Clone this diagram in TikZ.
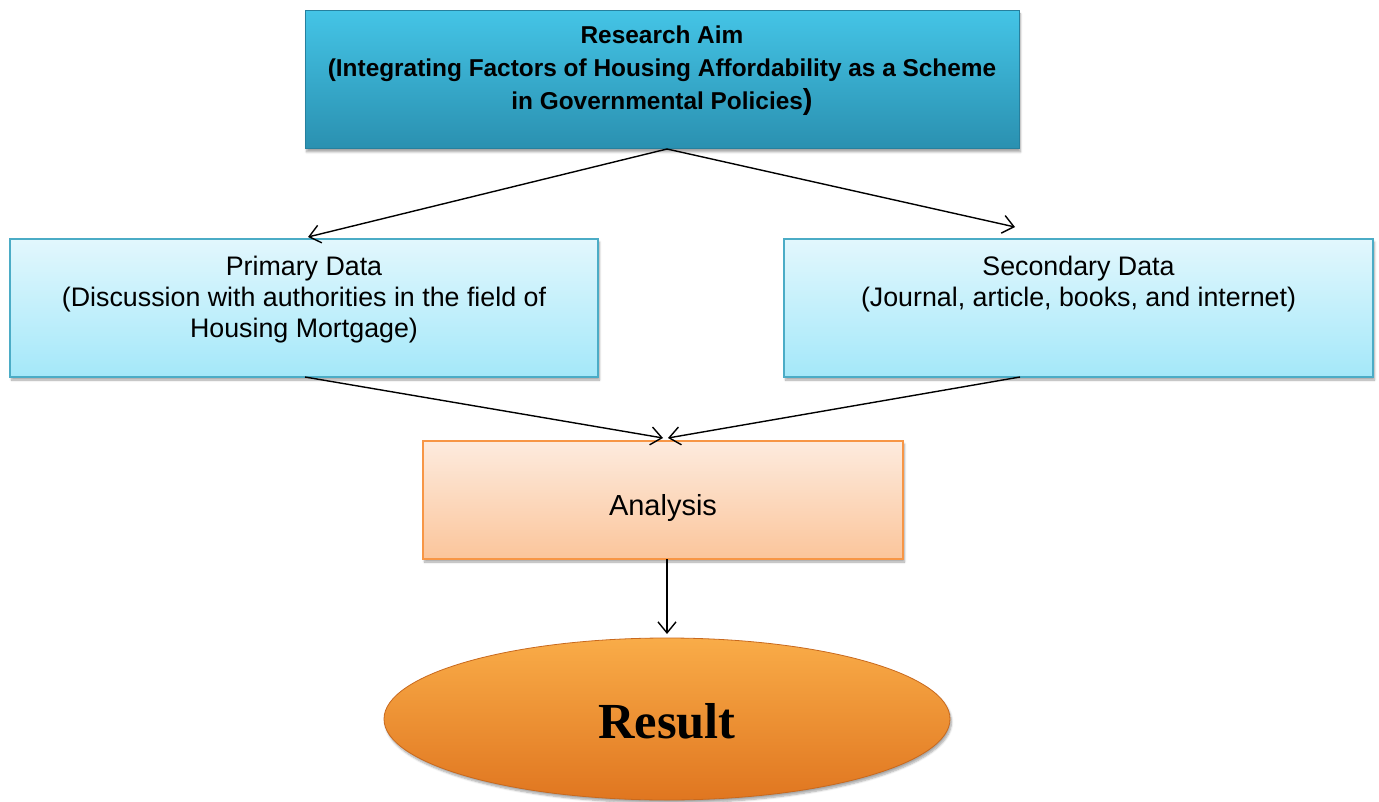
\documentclass[tikz,border=0pt]{standalone}
\usepackage{fontspec}
\setmainfont{Liberation Sans}
\newfontfamily\resfont{Liberation Serif}
\usetikzlibrary{arrows.meta,shapes.geometric,shadows.blur}
\definecolor{aimtop}{RGB}{68,196,230}
\definecolor{aimmid}{RGB}{54,176,212}
\definecolor{aimbot}{RGB}{42,144,176}
\definecolor{aimedge}{RGB}{38,128,158}
\definecolor{datatop}{RGB}{226,247,253}
\definecolor{databot}{RGB}{164,232,249}
\definecolor{dataedge}{RGB}{75,172,198}
\definecolor{anatop}{RGB}{253,235,222}
\definecolor{anabot}{RGB}{251,197,155}
\definecolor{anaedge}{RGB}{247,150,70}
\definecolor{restop}{RGB}{249,172,72}
\definecolor{resmid}{RGB}{247,146,40}
\definecolor{resbot}{RGB}{224,118,32}
\definecolor{resedge}{RGB}{200,105,30}
\tikzset{
  shade/.style={blur shadow={shadow xshift=1.5pt,shadow yshift=-3pt,shadow opacity=35,shadow blur steps=6}},
  aimbox/.style={rectangle,draw=aimedge,line width=1pt,top color=aimtop,middle color=aimmid,bottom color=aimbot,shade},
  databox/.style={rectangle,draw=dataedge,line width=1.2pt,top color=datatop,bottom color=databot,shade},
  anabox/.style={rectangle,draw=anaedge,line width=1.2pt,top color=anatop,bottom color=anabot,shade},
  resnode/.style={ellipse,draw=resedge,line width=0.8pt,top color=restop,middle color=resmid,bottom color=resbot,shade},
  boldtxt/.style={align=center,font=\fontsize{24.4}{33}\selectfont\bfseries,inner sep=0pt},
  plaintxt/.style={align=center,font=\fontsize{26.8}{31}\selectfont,inner sep=0pt},
  conn/.style={line width=1.4pt,-{Straight Barb[length=11pt,width=18pt,line width=1.4pt]}}
}
\begin{document}
\begin{tikzpicture}[x=1pt,y=-1pt]
\useasboundingbox (0,0) rectangle (1379,802);
% boxes
\node[aimbox,minimum width=714pt,minimum height=138pt] (aim) at (662,80) {};
\node[databox,minimum width=588pt,minimum height=138pt] (prim) at (304,308) {};
\node[databox,minimum width=589pt,minimum height=138pt] (sec) at (1078.5,308) {};
\node[anabox,minimum width=480pt,minimum height=118pt,font=\fontsize{29}{32}\selectfont] (ana) at (663,500) {\raisebox{-8pt}[\height][\depth]{Analysis}};
\node[resnode,minimum width=566pt,minimum height=162pt,font=\resfont\bfseries\fontsize{50.5}{56}\selectfont] (res) at (667,719) {\raisebox{-2pt}[\height][\depth]{Result}};
% texts
\node[boldtxt] (aimt) at (662,70.5) {Research Aim\\(Integrating Factors of Housing Affordability as a Scheme\\in Governmental Policies{\fontsize{29}{29}\selectfont)}};
\node[plaintxt] (primt) at (304,300) {Primary Data\\(Discussion with authorities in the field of\\Housing Mortgage)};
\node[plaintxt] (sect) at (1078.5,284.5) {Secondary Data\\(Journal, article, books, and internet)};
% connector ends
\coordinate (aimout) at (667,149);
\coordinate (primin) at (308,237);
\coordinate (secin) at (1015,227);
\coordinate (primout) at (305,377);
\coordinate (secout) at (1020,377);
\coordinate (anainl) at (663,438);
\coordinate (anainr) at (668,438);
\coordinate (anaout) at (667,559);
\coordinate (resin) at (667,634);
% connectors
\draw[conn] (aimout) -- (primin);
\draw[conn] (aimout) -- (secin);
\draw[conn] (primout) -- (anainl);
\draw[conn] (secout) -- (anainr);
\draw[conn] (anaout) -- (resin);
\end{tikzpicture}
\end{document}
